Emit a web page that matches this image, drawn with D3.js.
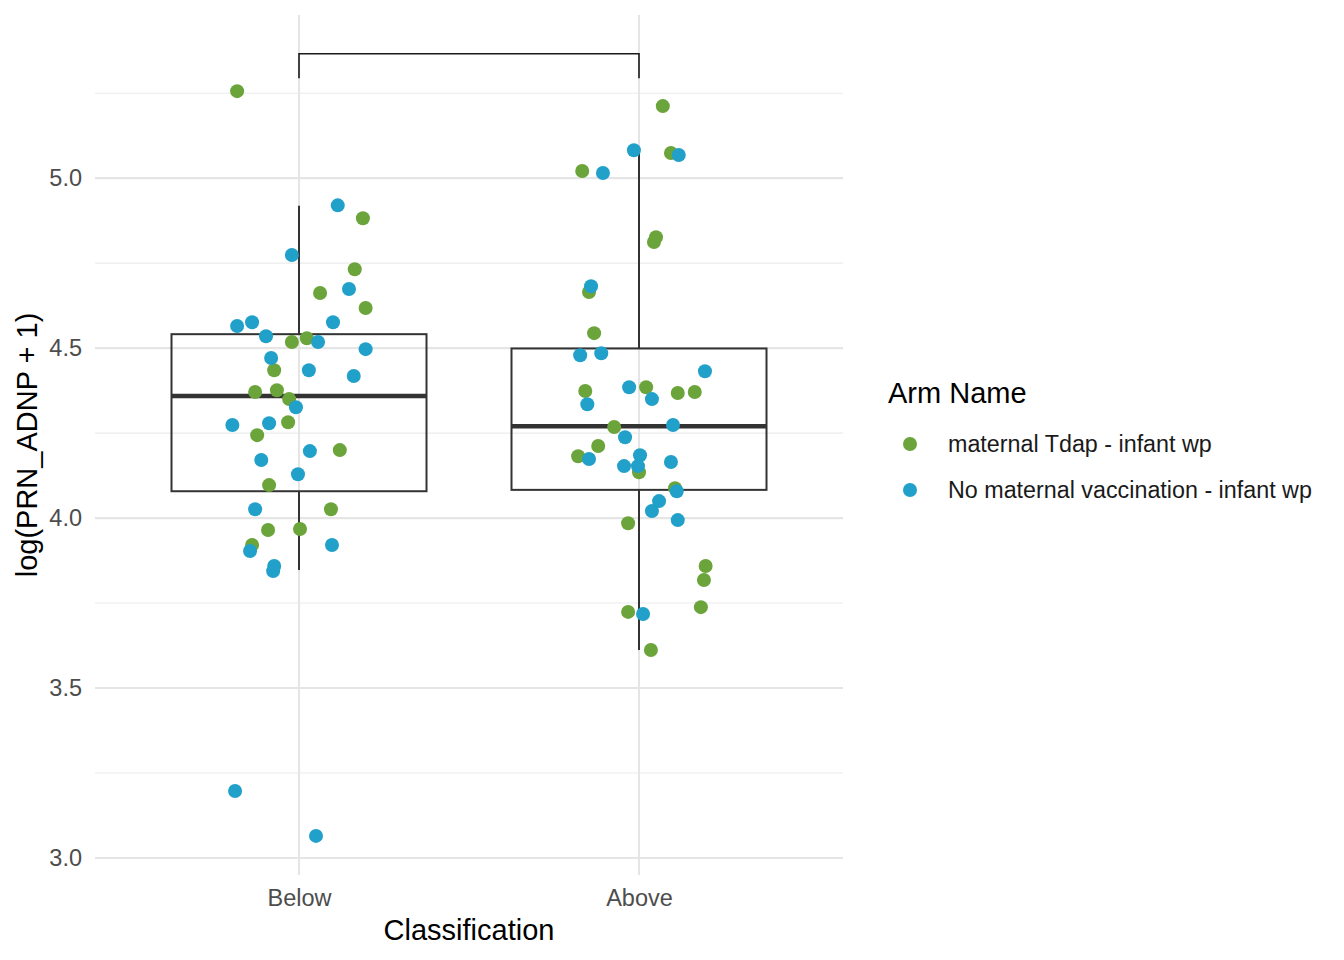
<!DOCTYPE html>
<html>
<head>
<meta charset="utf-8">
<script src="https://cdn.jsdelivr.net/npm/d3@7/dist/d3.min.js"></script>
<style>
  body { margin: 0; background: #fff; }
  svg text { font-family: "Liberation Sans", Arial, sans-serif; }
</style>
</head>
<body>
<svg id="chart" width="1344" height="960"></svg>
<script>
// categories and arms
var classes = ['Below', 'Above']
var arms = ['maternal Tdap - infant wp', 'No maternal vaccination - infant wp']
var armColors = ['#6ba43a', '#21a0c9']
var yTicks = [3.0, 3.5, 4.0, 4.5, 5.0]
var yMinor = [3.25, 3.75, 4.25, 4.75, 5.25]

// box stats: [lower whisker, q1, median, q3, upper whisker]
var boxBelow = [3.847, 4.079, 4.359, 4.541, 4.919]
var boxAbove = [3.612, 4.083, 4.270, 4.499, 5.088]

// points: value and horizontal jitter (in category widths)
var belowTdapY = [5.256, 4.882, 4.732, 4.662, 4.618, 4.529, 4.518, 4.435, 4.371, 4.376, 4.350, 4.282, 4.244, 4.200, 4.097, 4.026, 3.968, 3.965, 3.921]
var belowTdapJ = [-0.182, 0.188, 0.164, 0.062, 0.196, 0.023, -0.021, -0.073, -0.129, -0.065, -0.029, -0.032, -0.123, 0.120, -0.088, 0.094, 0.003, -0.091, -0.138]
var belowNoneY = [4.920, 4.774, 4.674, 4.576, 4.565, 4.576, 4.535, 4.518, 4.497, 4.471, 4.435, 4.418, 4.326, 4.279, 4.274, 4.197, 4.171, 4.129, 4.026, 3.921, 3.903, 3.859, 3.844, 3.197, 3.065]
var belowNoneJ = [0.114, -0.021, 0.147, -0.138, -0.182, 0.100, -0.097, 0.056, 0.196, -0.082, 0.029, 0.161, -0.009, -0.088, -0.196, 0.032, -0.111, -0.003, -0.129, 0.097, -0.144, -0.073, -0.076, -0.188, 0.050]
var aboveTdapY = [5.212, 5.074, 5.021, 4.826, 4.812, 4.665, 4.544, 4.374, 4.385, 4.368, 4.371, 4.268, 4.212, 4.182, 4.135, 4.088, 3.985, 3.859, 3.818, 3.738, 3.724, 3.612]
var aboveTdapJ = [0.070, 0.094, -0.167, 0.050, 0.044, -0.147, -0.132, -0.158, 0.021, 0.114, 0.164, -0.073, -0.120, -0.179, 0.000, 0.106, -0.032, 0.196, 0.191, 0.182, -0.032, 0.035]
var aboveNoneY = [5.082, 5.068, 5.015, 4.682, 4.479, 4.485, 4.432, 4.385, 4.350, 4.335, 4.274, 4.238, 4.185, 4.174, 4.153, 4.153, 4.165, 4.079, 4.050, 4.021, 3.994, 3.718]
var aboveNoneJ = [-0.015, 0.117, -0.106, -0.141, -0.173, -0.111, 0.194, -0.029, 0.038, -0.152, 0.100, -0.041, 0.003, -0.147, -0.044, -0.003, 0.094, 0.111, 0.059, 0.038, 0.114, 0.012]

// significance bracket
var bracketY = 5.366
var bracketTip = 5.294

var points = []
function addPoints(cls, arm, ys, js) {
    ys.forEach(function(v, i) { points.push({cls: cls, arm: arm, y: v, j: js[i]}) })
}
addPoints('Below', 0, belowTdapY, belowTdapJ)
addPoints('Below', 1, belowNoneY, belowNoneJ)
addPoints('Above', 0, aboveTdapY, aboveTdapJ)
addPoints('Above', 1, aboveNoneY, aboveNoneJ)

var boxes = [{cls: 'Below', s: boxBelow}, {cls: 'Above', s: boxAbove}]

var svg = d3.select('#chart')
var pLeft = 95, pRight = 843, pTop = 15, pBottom = 875

var x = d3.scalePoint().domain(classes).range([pLeft, pRight]).padding(0.6)
var y = d3.scaleLinear().domain([2.95, 5.48]).range([pBottom, pTop])
var step = x.step()

// grid
var grid = svg.append('g')
grid.selectAll('.minor').data(yMinor).enter().append('line')
    .attr('x1', pLeft).attr('x2', pRight)
    .attr('y1', function(d) { return y(d) }).attr('y2', function(d) { return y(d) })
    .attr('stroke', '#ebebeb').attr('stroke-width', 1.1)
grid.selectAll('.major').data(yTicks).enter().append('line')
    .attr('x1', pLeft).attr('x2', pRight)
    .attr('y1', function(d) { return y(d) }).attr('y2', function(d) { return y(d) })
    .attr('stroke', '#e5e5e5').attr('stroke-width', 2.1)
grid.selectAll('.vmajor').data(classes).enter().append('line')
    .attr('x1', function(d) { return x(d) }).attr('x2', function(d) { return x(d) })
    .attr('y1', pTop).attr('y2', pBottom)
    .attr('stroke', '#e5e5e5').attr('stroke-width', 2.1)

// axes (no lines, only labels)
var yAxis = svg.append('g').attr('transform', 'translate(' + pLeft + ',0)')
    .call(d3.axisLeft(y).tickValues(yTicks).tickFormat(d3.format('.1f')).tickSize(0).tickPadding(13))
yAxis.select('.domain').remove()
yAxis.selectAll('text').attr('font-size', 23.5).attr('fill', '#4d4d4d')

var xAxis = svg.append('g').attr('transform', 'translate(0,' + pBottom + ')')
    .call(d3.axisBottom(x).tickSize(0).tickPadding(14))
xAxis.select('.domain').remove()
xAxis.selectAll('text').attr('font-size', 23.5).attr('fill', '#4d4d4d')

svg.append('text').attr('x', (pLeft + pRight) / 2).attr('y', 940)
    .attr('text-anchor', 'middle').attr('font-size', 29).attr('fill', '#000')
    .text('Classification')
svg.append('text').attr('transform', 'translate(37,' + ((pTop + pBottom) / 2) + ') rotate(-90)')
    .attr('text-anchor', 'middle').attr('font-size', 29).attr('fill', '#000')
    .text('log(PRN_ADNP + 1)')

// boxplots
var bw = step * 0.75
var bg = svg.append('g').selectAll('g').data(boxes).enter().append('g')
bg.append('line')
    .attr('x1', function(d) { return x(d.cls) }).attr('x2', function(d) { return x(d.cls) })
    .attr('y1', function(d) { return y(d.s[3]) }).attr('y2', function(d) { return y(d.s[4]) })
    .attr('stroke', '#333').attr('stroke-width', 2)
bg.append('line')
    .attr('x1', function(d) { return x(d.cls) }).attr('x2', function(d) { return x(d.cls) })
    .attr('y1', function(d) { return y(d.s[1]) }).attr('y2', function(d) { return y(d.s[0]) })
    .attr('stroke', '#333').attr('stroke-width', 2)
bg.append('rect')
    .attr('x', function(d) { return x(d.cls) - bw / 2 }).attr('width', bw)
    .attr('y', function(d) { return y(d.s[3]) })
    .attr('height', function(d) { return y(d.s[1]) - y(d.s[3]) })
    .attr('fill', 'none').attr('stroke', '#333').attr('stroke-width', 2)
bg.append('line')
    .attr('x1', function(d) { return x(d.cls) - bw / 2 }).attr('x2', function(d) { return x(d.cls) + bw / 2 })
    .attr('y1', function(d) { return y(d.s[2]) }).attr('y2', function(d) { return y(d.s[2]) })
    .attr('stroke', '#333').attr('stroke-width', 4.5)

// points
svg.append('g').selectAll('circle').data(points).enter().append('circle')
    .attr('cx', function(d) { return x(d.cls) + d.j * step })
    .attr('cy', function(d) { return y(d.y) })
    .attr('r', 7)
    .attr('fill', function(d) { return armColors[d.arm] })

// bracket
svg.append('path')
    .attr('d', 'M' + x('Below') + ',' + y(bracketTip) + 'V' + y(bracketY) + 'H' + x('Above') + 'V' + y(bracketTip))
    .attr('fill', 'none').attr('stroke', '#1a1a1a').attr('stroke-width', 1.6)

// legend
var lg = svg.append('g')
lg.append('text').attr('x', 888).attr('y', 403).attr('font-size', 29).attr('fill', '#000').text('Arm Name')
var items = lg.selectAll('g.item').data(arms).enter().append('g')
    .attr('transform', function(d, i) { return 'translate(0,' + (444 + i * 46) + ')' })
items.append('circle').attr('cx', 910).attr('cy', 0).attr('r', 7)
    .attr('fill', function(d, i) { return armColors[i] })
items.append('text').attr('x', 948).attr('y', 8).attr('font-size', 23.3).attr('fill', '#1a1a1a')
    .text(function(d) { return d })
</script>
</body>
</html>
